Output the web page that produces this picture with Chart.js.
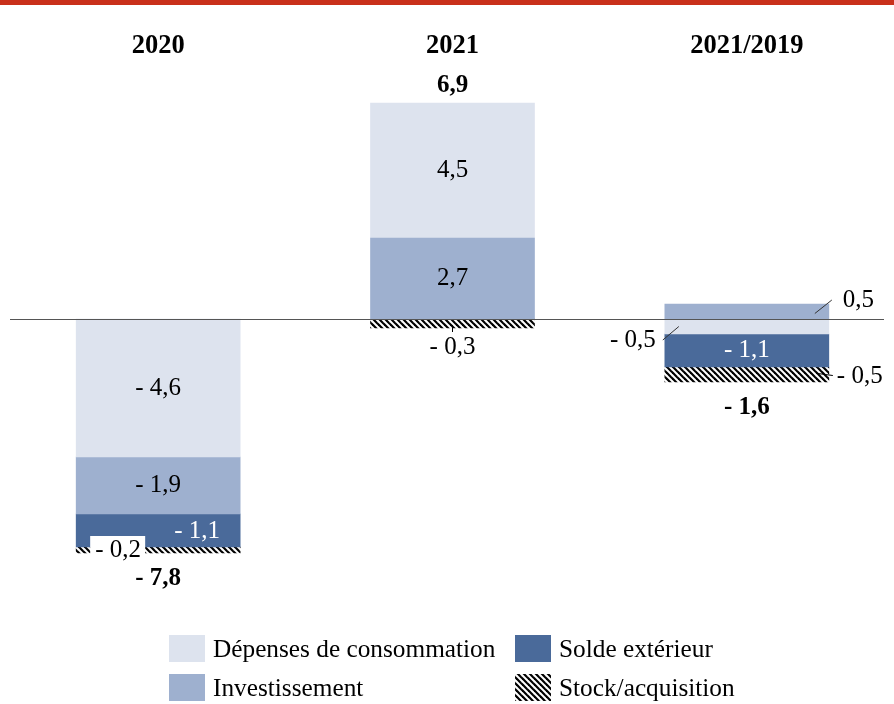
<!DOCTYPE html>
<html>
<head>
<meta charset="utf-8">
<script src="https://cdn.jsdelivr.net/npm/chart.js@4/dist/chart.umd.min.js"></script>
<style>
  html, body { margin: 0; padding: 0; background: #ffffff; }
  #wrap { width: 894px; height: 704px; position: relative; }
</style>
</head>
<body>
<div id="wrap"><canvas id="c" width="894" height="704"></canvas></div>
<script>
// ---- Data ----
const categories = ['2020', '2021', '2021/2019'];
const seriesNames = ['Dépenses de consommation', 'Investissement', 'Solde extérieur', 'Stock/acquisition'];
const consommation = [-4.6, 4.5, -0.5];
const investissement = [-1.9, 2.7, 0.5];
const soldeExterieur = [-1.1, 0, -1.1];
const stockAcquisition = [-0.2, -0.3, -0.5];
const totals = [-7.8, 6.9, -1.6];

// ---- Styles ----
const COL_CONSO = '#dde3ee';
const COL_INVEST = '#9eb0cf';
const COL_SOLDE = '#4a6a9a';
const SERIF = '"Liberation Serif", "Times New Roman", serif';
const LABEL_SIZE = 25;

function makeHatch() {
  const n = 6;
  const t = document.createElement('canvas');
  t.width = n; t.height = n;
  const g = t.getContext('2d');
  g.fillStyle = '#ffffff';
  g.fillRect(0, 0, n, n);
  g.strokeStyle = '#000000';
  g.lineWidth = 2.2;
  for (const k of [-n, 0, n]) {
    g.beginPath();
    g.moveTo(k - 1, -1);
    g.lineTo(k + n + 1, n + 1);
    g.stroke();
  }
  return document.getElementById('c').getContext('2d').createPattern(t, 'repeat');
}
const HATCH = makeHatch();

function fmt(v) {
  const s = Math.abs(v).toFixed(1).replace('.', ',');
  return v < 0 ? '- ' + s : s;
}
const nz = v => (v === 0 ? null : v);

// stacking order so that positive investment sits next to zero in 2021
const invPos = investissement.map(v => (v > 0 ? v : null));
const invNeg = investissement.map(v => (v < 0 ? v : null));

const common = { barThickness: 164, borderWidth: 0 };
const datasets = [
  Object.assign({ label: seriesNames[1], data: invPos, backgroundColor: COL_INVEST }, common),
  Object.assign({ label: seriesNames[0], data: consommation.map(nz), backgroundColor: COL_CONSO }, common),
  Object.assign({ label: seriesNames[1], data: invNeg, backgroundColor: COL_INVEST }, common),
  Object.assign({ label: seriesNames[2], data: soldeExterieur.map(nz), backgroundColor: COL_SOLDE }, common),
  Object.assign({ label: seriesNames[3], data: stockAcquisition.map(nz), backgroundColor: HATCH }, common)
];

function txt(ctx, s, x, y, opts) {
  opts = opts || {};
  ctx.save();
  ctx.font = (opts.bold ? 'bold ' : '') + (opts.size || LABEL_SIZE) + 'px ' + SERIF;
  ctx.fillStyle = opts.color || '#000000';
  ctx.textAlign = opts.align || 'center';
  ctx.textBaseline = 'middle';
  ctx.fillText(s, x, y);
  ctx.restore();
}
function line(ctx, x1, y1, x2, y2, color, w) {
  ctx.save();
  ctx.strokeStyle = color || '#000000';
  ctx.lineWidth = w || 1;
  ctx.beginPath();
  ctx.moveTo(x1, y1);
  ctx.lineTo(x2, y2);
  ctx.stroke();
  ctx.restore();
}

const decorations = {
  id: 'decorations',
  beforeDraw(chart) {
    const ctx = chart.ctx;
    ctx.save();
    ctx.fillStyle = '#ffffff';
    ctx.fillRect(0, 0, chart.width, chart.height);
    ctx.fillStyle = '#c9301b';
    ctx.fillRect(0, 0, chart.width, 5);
    ctx.restore();
  },
  afterDatasetsDraw(chart) {
    const ctx = chart.ctx;
    const xs = chart.scales.x, ys = chart.scales.y;
    const y0 = ys.getPixelForValue(0);
    // zero line
    line(ctx, 10, y0 + 0.5, 884, y0 + 0.5, '#555555', 1);

    // category headings
    categories.forEach((c, i) => txt(ctx, c, xs.getPixelForValue(i), 46, { bold: true, size: 26.5 }));

    const bar = (di, i) => {
      const el = chart.getDatasetMeta(di).data[i];
      if (!el || chart.data.datasets[di].data[i] == null) return null;
      const top = Math.min(el.y, el.base), bot = Math.max(el.y, el.base);
      return { x: el.x, top, bot, mid: (top + bot) / 2, left: el.x - 82, right: el.x + 82, h: bot - top };
    };

    for (let i = 0; i < categories.length; i++) {
      const cx = xs.getPixelForValue(i);
      [[1, consommation[i]], [0, investissement[i]], [2, investissement[i]]].forEach(([di, v]) => {
        const b = bar(di, i);
        if (!b) return;
        if (b.h >= 25) {
          txt(ctx, fmt(v), b.x, b.mid);
        } else if (v > 0) {
          line(ctx, b.right - 14, b.mid + 2, b.right + 3, b.top - 4, '#333333', 1);
          txt(ctx, fmt(v), b.right + 14, b.top - 4, { align: 'left' });
        } else {
          line(ctx, b.left - 2, b.bot + 6, b.left + 14, b.mid, '#333333', 1);
          txt(ctx, fmt(v), b.left - 9, b.bot + 6, { align: 'right' });
        }
      });
      const bs = bar(3, i);
      const bst = bar(4, i);
      if (bs) {
        const shifted = bst && bst.h < 8;
        txt(ctx, fmt(soldeExterieur[i]), shifted ? bs.x + 39 : bs.x, bs.mid + (shifted ? 1 : 0), { color: '#ffffff' });
      }
      if (bst) {
        const v = stockAcquisition[i];
        if (bst.h < 8) {
          ctx.save();
          ctx.fillStyle = '#ffffff';
          ctx.fillRect(bst.left + 14, bst.top - 11, 55, 21);
          ctx.restore();
          txt(ctx, fmt(v), bst.left + 42, bst.top + 3);
        } else if (bst.top <= y0 + 1) {
          line(ctx, bst.x, bst.bot - 3, bst.x, bst.bot + 4, '#000000', 1);
          txt(ctx, fmt(v), bst.x, bst.bot + 19);
        } else {
          line(ctx, bst.right - 11, bst.mid - 1, bst.right + 4, bst.mid + 1, '#000000', 1);
          txt(ctx, fmt(v), bst.right + 8, bst.mid + 2, { align: 'left' });
        }
      }
      const t = totals[i];
      let stackTop = y0, stackBot = y0;
      for (let d = 0; d < 5; d++) { const b = bar(d, i); if (b) { stackTop = Math.min(stackTop, b.top); stackBot = Math.max(stackBot, b.bot); } }
      if (t > 0) txt(ctx, fmt(t), cx, stackTop - 17, { bold: true, size: 25 });
      else txt(ctx, fmt(t), cx, stackBot + 26, { bold: true, size: 25 });
    }
  },
  afterDraw(chart) {
    const ctx = chart.ctx;
    const items = [
      { name: seriesNames[0], fill: COL_CONSO, x: 169, y: 635 },
      { name: seriesNames[2], fill: COL_SOLDE, x: 515, y: 635 },
      { name: seriesNames[1], fill: COL_INVEST, x: 169, y: 674 },
      { name: seriesNames[3], fill: HATCH, x: 515, y: 674 }
    ];
    items.forEach(it => {
      ctx.save();
      ctx.fillStyle = it.fill;
      ctx.fillRect(it.x, it.y, 36, 27);
      ctx.restore();
      txt(ctx, it.name, it.x + 44, it.y + 15, { align: 'left', size: 25.3 });
    });
  }
};

new Chart(document.getElementById('c'), {
  type: 'bar',
  data: { labels: categories, datasets },
  options: {
    responsive: false,
    animation: false,
    devicePixelRatio: 1,
    layout: { padding: { left: 11, right: 0, top: 79, bottom: 115 } },
    plugins: { legend: { display: false }, tooltip: { enabled: false }, title: { display: false } },
    scales: {
      x: { display: false, stacked: true, offset: true },
      y: { display: false, stacked: true, min: -9, max: 8 }
    }
  },
  plugins: [decorations]
});
</script>
</body>
</html>
